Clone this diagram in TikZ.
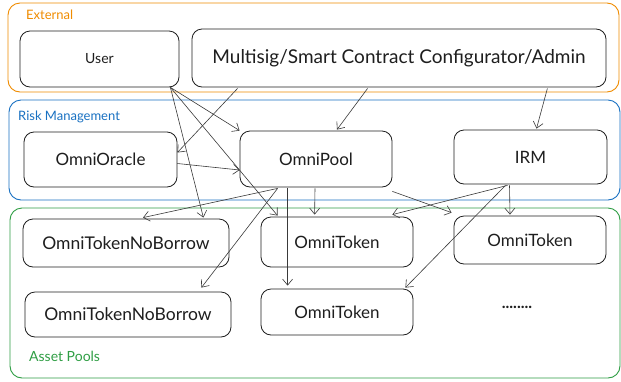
\documentclass[tikz,border=0pt]{standalone}
\usepackage{fontspec}
\setmainfont{Lato}
\usetikzlibrary{arrows.meta,calc}
\definecolor{exorange}{HTML}{F08C00}
\definecolor{exblue}{HTML}{1971C2}
\definecolor{exgreen}{HTML}{2F9E44}
\definecolor{exink}{HTML}{1E1E1E}
\definecolor{exline}{HTML}{3A3A3A}
\begin{document}
\begin{tikzpicture}[x=1pt,y=-1pt,
  grp/.style={draw, line width=0.9pt, rounded corners=12pt},
  grplabel/.style={anchor=west, inner sep=0pt, font=\fontsize{13}{15}\selectfont},
  box/.style={draw=exink, line width=0.8pt, rounded corners=10pt, inner sep=0pt,
    font=\fontsize{17}{20}\selectfont, text=exink},
  conn/.style={draw=exline, line width=0.6pt, -{Straight Barb[length=6pt,width=10pt]}}
]
\useasboundingbox (0,0) rectangle (621,381);
\fill[white] (0,0) rectangle (621,381);
% groups
\draw[grp, exorange] (8,3) rectangle (619,92);
\node[grplabel, text=exorange] (lext) at (26,15) {External};
\draw[grp, exblue] (9,100) rectangle (620,200);
\node[grplabel, text=exblue] (lrisk) at (18,117) {Risk Management};
\draw[grp, exgreen] (10,208) rectangle (620,378);
\node[grplabel, text=exgreen, font=\fontsize{14}{16}\selectfont] (lasset) at (29,356) {Asset Pools};
% nodes
\node[box, minimum width=159pt, minimum height=56pt, font=\fontsize{14}{16}\selectfont] (user) at (99.5,59) {User};
\node[box, minimum width=414pt, minimum height=58pt, font=\fontsize{19}{22}\selectfont] (ms) at (399,58) {Multisig/Smart Contract Configurator/Admin};
\node[box, minimum width=153pt, minimum height=55pt] (oracle) at (100.5,159.5) {OmniOracle};
\node[box, minimum width=152pt, minimum height=56pt] (pool) at (316,159) {OmniPool};
\node[box, minimum width=153pt, minimum height=54pt] (irm) at (530.5,157) {IRM};
\node[box, minimum width=206pt, minimum height=48pt, font=\fontsize{17.5}{20}\selectfont] (nb1) at (126,243) {OmniTokenNoBorrow};
\node[box, minimum width=152pt, minimum height=50pt] (tok1) at (337,242) {OmniToken};
\node[box, minimum width=152pt, minimum height=48pt] (tok2) at (530,240) {OmniToken};
\node[box, minimum width=206pt, minimum height=45pt, font=\fontsize{17.5}{20}\selectfont] (nb2) at (128,314.5) {OmniTokenNoBorrow};
\node[box, minimum width=152pt, minimum height=46pt] (tok3) at (337,312) {OmniToken};
\node[font=\bfseries\fontsize{16}{18}\selectfont, text=exink] (more) at (517,307) {........};
% connectors from User
\coordinate (us) at ($(user.south east)+(-9,0)$);
\draw[conn] (us) -- (pool.north west);
\draw[conn] (us) -- ($(nb1.north east)+(-26,-1)$);
\draw[conn] (us) -- ($(tok1.north west)+(17,-1)$);
% from Multisig
\draw[conn] ($(ms.south west)+(46,1)$) -- ($(oracle.east)+(0,-7)$);
\draw[conn] ($(ms.south west)+(176,1)$) -- ($(pool.north)+(21,-1)$);
\draw[conn] ($(ms.south east)+(-59,1)$) -- ($(irm.north)+(6,-1)$);
% Oracle -> Pool
\draw[conn] ($(oracle.east)+(0,4)$) -- ($(pool.west)+(0,11)$);
% from Pool
\draw[conn] ($(pool.south west)+(38,1)$) -- ($(nb1.north)+(17,-1)$);
\draw[conn] ($(pool.south west)+(38,1)$) -- ($(nb2.north east)+(-30,-4)$);
\draw[conn] ($(pool.south west)+(48,1)$) -- ($(tok3.north west)+(27,-3)$);
\draw[conn] ($(pool.south)+(-1,1)$) -- ($(tok1.north west)+(54,-2)$);
\draw[conn] ($(pool.south east)+(0,4)$) -- ($(tok2.north west)+(-2,-3)$);
% from IRM
\draw[conn] ($(irm.south)+(-23,1)$) -- ($(tok1.north east)+(-21,-2)$);
\draw[conn] ($(irm.south)+(-25,1)$) -- ($(tok3.north east)+(-8,-1)$);
\draw[conn] ($(irm.south)+(-21,1)$) -- ($(tok2.north)+(-20,-1)$);
\end{tikzpicture}
\end{document}
